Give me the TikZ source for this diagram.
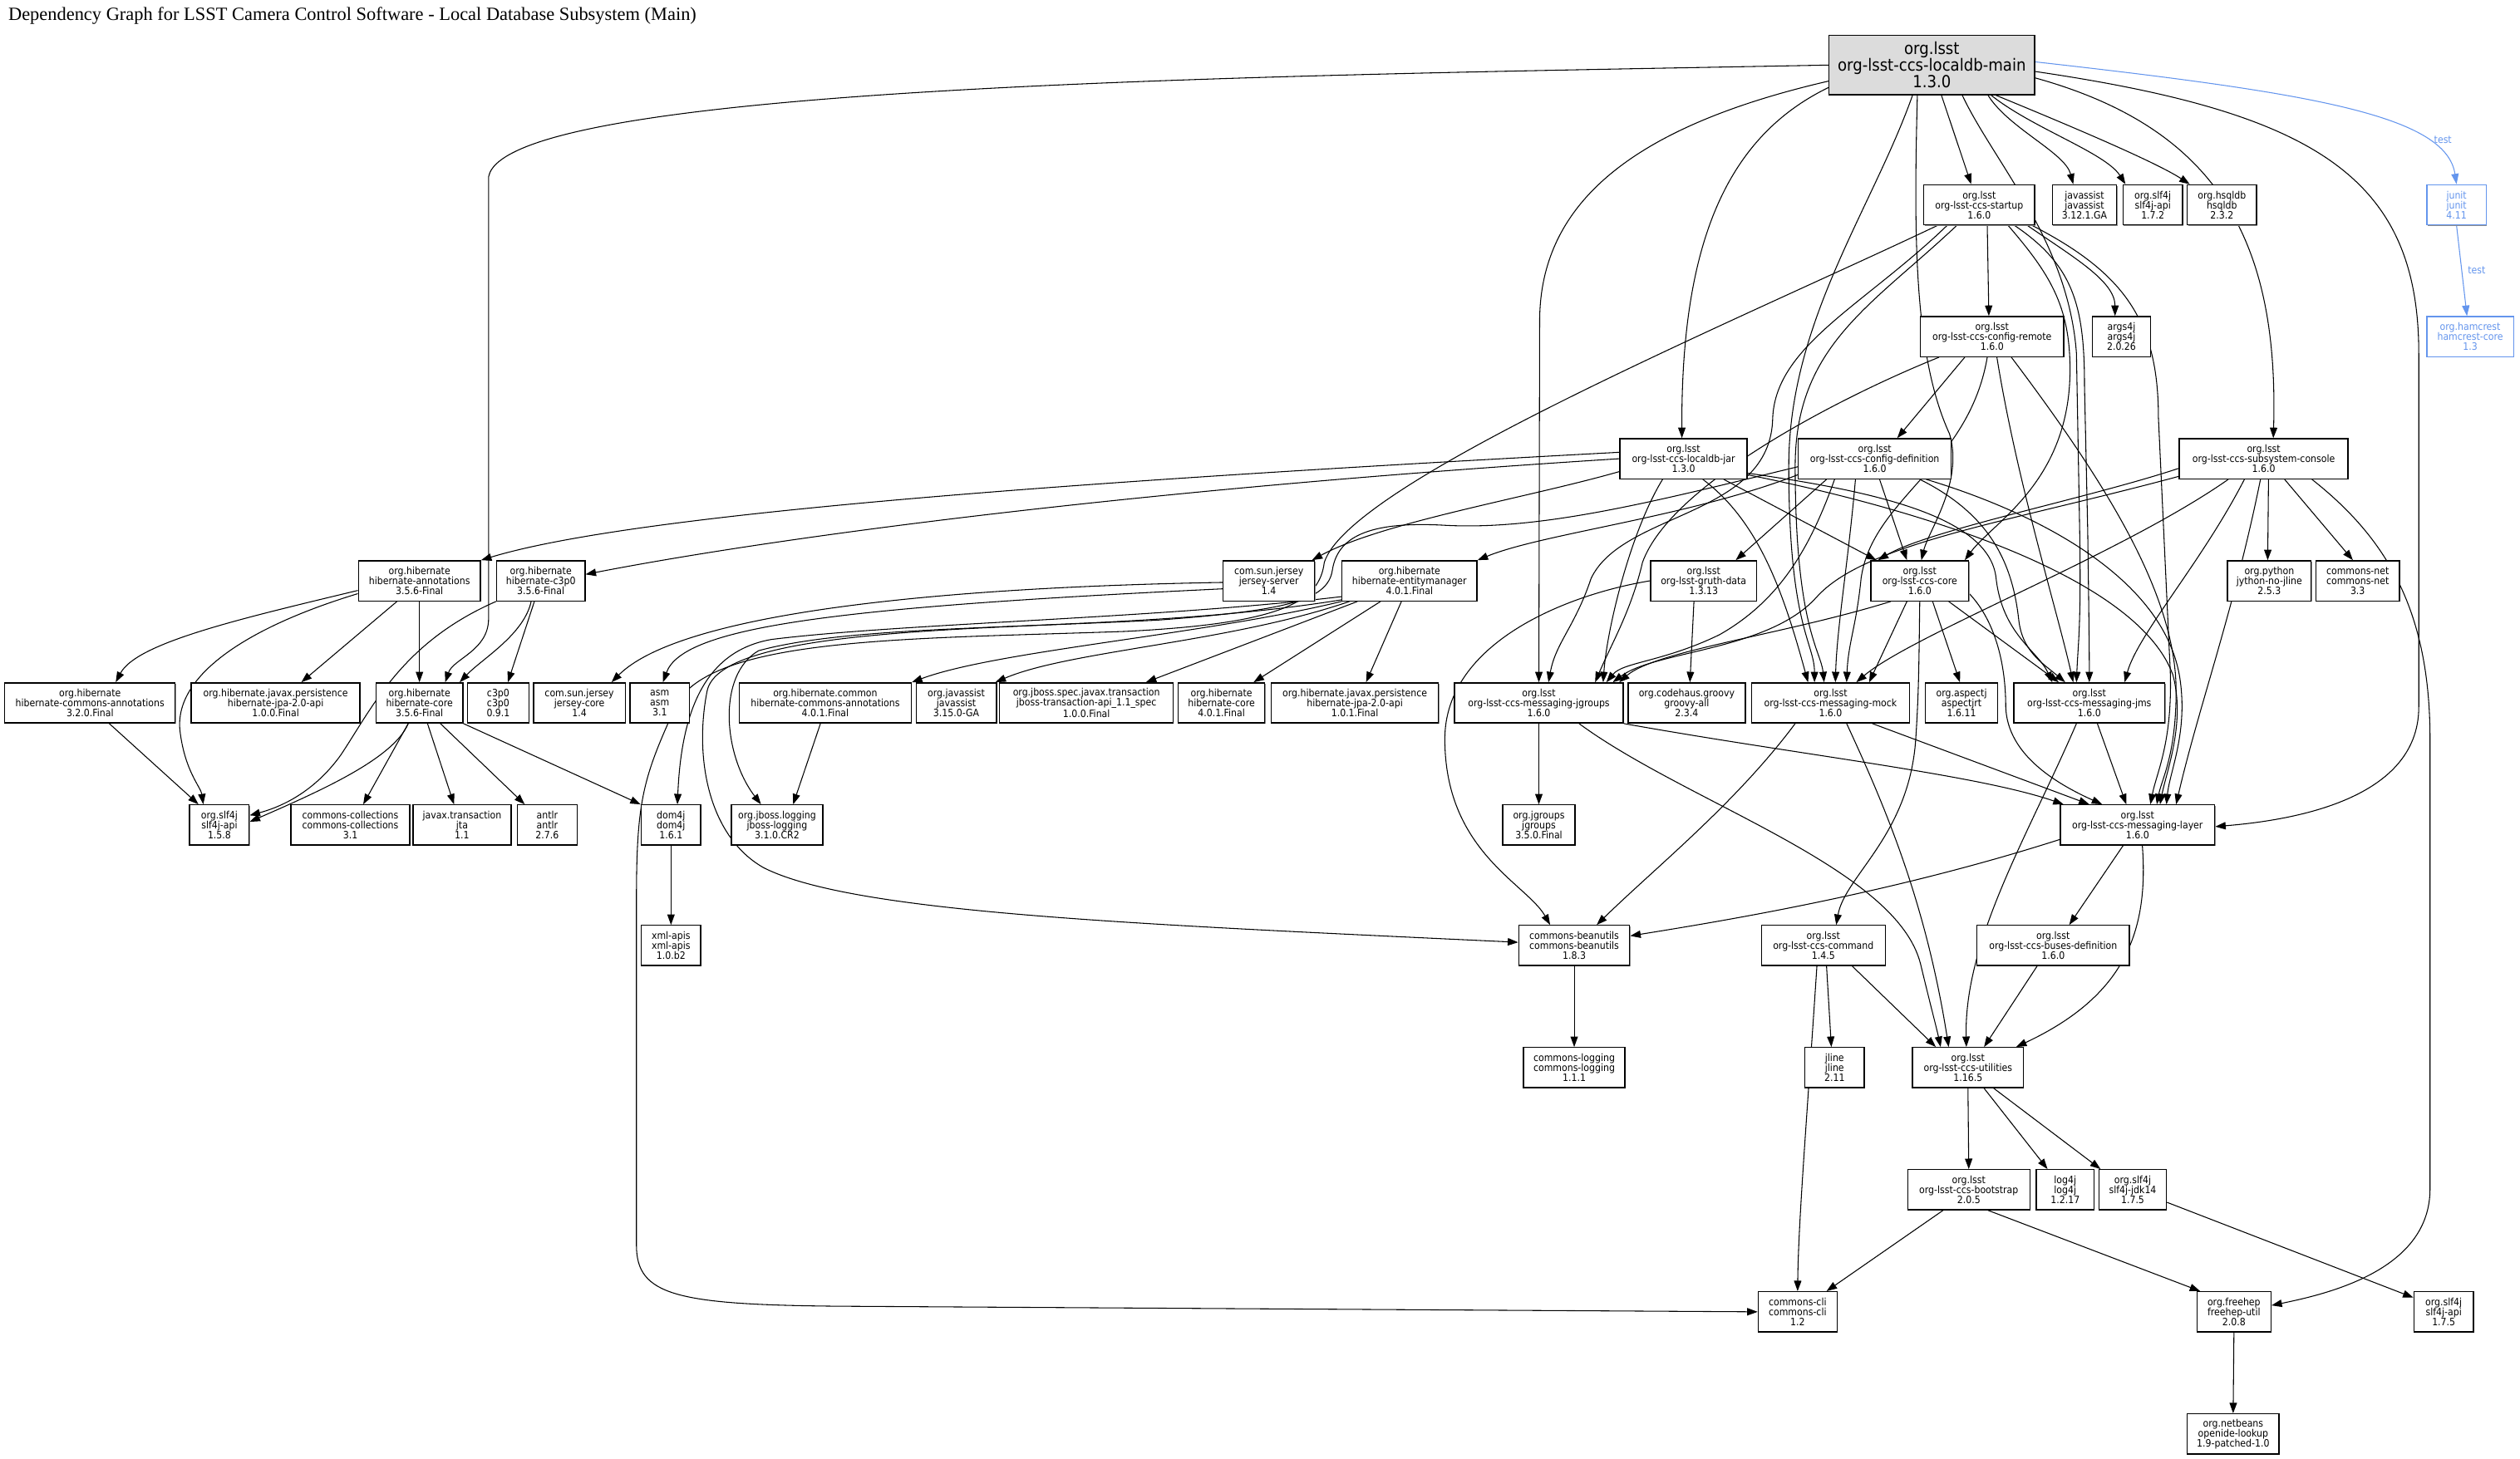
\documentclass[tikz,border=0pt]{standalone}
\usepackage{fontspec}
\setmainfont{Liberation Serif}
\newfontfamily\nf{DejaVu Sans Condensed}
\usetikzlibrary{arrows.meta,shadows}
\definecolor{cblue}{HTML}{6495ED}
\definecolor{rootgray}{HTML}{DCDCDC}
\pgfdeclarelayer{bg}
\pgfsetlayers{bg,main}
\newcommand\dbox[5]{\node[box,minimum width=#4pt] (#1) at (#2,#3) {#5};}
\begin{document}
\begin{tikzpicture}[x=1pt,y=-1pt,
  box/.style={draw, fill=white, line width=0.7pt, inner sep=0pt, align=center,
    font=\nf\fontsize{6.3}{6.2}\selectfont, minimum height=25pt,
    drop shadow={shadow xshift=0.45pt, shadow yshift=-0.6pt, fill=black!45, opacity=1}},
  dep/.style={draw, line width=0.55pt, -{Triangle[length=6.5pt,width=4.6pt]}},
  tdep/.style={dep, draw=cblue},
  tlab/.style={font=\nf\fontsize{6.3}{6.2}\selectfont, text=cblue, inner sep=0pt}]
\useasboundingbox (0,0) rectangle (1568,908);
\node[anchor=west, inner sep=0pt, font=\fontsize{11.6}{14}\selectfont] (title) at (5,10)
  {Dependency Graph for LSST Camera Control Software - Local Database Subsystem (Main)};
% root
\node[box, fill=rootgray, minimum width=128pt, minimum height=37pt, font=\nf\fontsize{10.4}{10.3}\selectfont] (root) at (1202,40.5) {org.lsst\\org-lsst-ccs-localdb-main\\1.3.0};
% row 1
\dbox{startup}{1231.5}{127.5}{69}{org.lsst\\org-lsst-ccs-startup\\1.6.0}
\dbox{javassist}{1297}{127.5}{40}{javassist\\javassist\\3.12.1.GA}
\dbox{slfxii}{1339.5}{127.5}{37}{org.slf4j\\slf4j-api\\1.7.2}
\dbox{hsqldb}{1382.5}{127.5}{43}{org.hsqldb\\hsqldb\\2.3.2}
\node[box, draw=cblue, text=cblue, minimum width=37pt] (junit) at (1528.5,127.5) {junit\\junit\\4.11};
% row 2
\dbox{configremote}{1239.5}{209.5}{89}{org.lsst\\org-lsst-ccs-config-remote\\1.6.0}
\dbox{argsj}{1320}{209.5}{36}{args4j\\args4j\\2.0.26}
\node[box, draw=cblue, text=cblue, minimum width=54pt] (hamcrest) at (1537,209.5) {org.hamcrest\\hamcrest-core\\1.3};
% row 3
\dbox{localdbjar}{1047.5}{285.5}{79}{org.lsst\\org-lsst-ccs-localdb-jar\\1.3.0}
\dbox{configdef}{1166.5}{285.5}{95}{org.lsst\\org-lsst-ccs-config-definition\\1.6.0}
\dbox{console}{1408.5}{285.5}{105}{org.lsst\\org-lsst-ccs-subsystem-console\\1.6.0}
% row 4
\dbox{hannotations}{261}{361.5}{76}{org.hibernate\\hibernate-annotations\\3.5.6-Final}
\dbox{hcpo}{336.5}{361.5}{55}{org.hibernate\\hibernate-c3p0\\3.5.6-Final}
\dbox{jerseyserver}{789.5}{361.5}{57}{com.sun.jersey\\jersey-server\\1.4}
\dbox{entitymanager}{877}{361.5}{84}{org.hibernate\\hibernate-entitymanager\\4.0.1.Final}
\dbox{gruthdata}{1060}{361.5}{66}{org.lsst\\org-lsst-gruth-data\\1.3.13}
\dbox{core}{1194.5}{361.5}{61}{org.lsst\\org-lsst-ccs-core\\1.6.0}
\dbox{jython}{1412}{361.5}{52}{org.python\\jython-no-jline\\2.5.3}
\dbox{commonsnet}{1467}{361.5}{52}{commons-net\\commons-net\\3.3}
% row 5
\dbox{hcaold}{56}{437.5}{106}{org.hibernate\\hibernate-commons-annotations\\3.2.0.Final}
\dbox{jpaold}{171.5}{437.5}{105}{org.hibernate.javax.persistence\\hibernate-jpa-2.0-api\\1.0.0.Final}
\dbox{hcoreold}{261}{437.5}{54}{org.hibernate\\hibernate-core\\3.5.6-Final}
\dbox{cpo}{310}{437.5}{38}{c3p0\\c3p0\\0.9.1}
\dbox{jerseycore}{360.5}{437.5}{57}{com.sun.jersey\\jersey-core\\1.4}
\dbox{asm}{410.5}{437.5}{37}{asm\\asm\\3.1}
\dbox{hibcommon}{513.5}{437.5}{107}{org.hibernate.common\\hibernate-commons-annotations\\4.0.1.Final}
\dbox{javassistnew}{595}{437.5}{50}{org.javassist\\javassist\\3.15.0-GA}
\dbox{jbossspec}{676}{437.5}{108}{org.jboss.spec.javax.transaction\\jboss-transaction-api\_1.1\_spec\\1.0.0.Final}
\dbox{hcorenew}{760}{437.5}{54}{org.hibernate\\hibernate-core\\4.0.1.Final}
\dbox{jpanew}{843}{437.5}{104}{org.hibernate.javax.persistence\\hibernate-jpa-2.0-api\\1.0.1.Final}
\dbox{jgroupsmsg}{957.5}{437.5}{105}{org.lsst\\org-lsst-ccs-messaging-jgroups\\1.6.0}
\dbox{groovy}{1049.5}{437.5}{73}{org.codehaus.groovy\\groovy-all\\2.3.4}
\dbox{mock}{1139}{437.5}{98}{org.lsst\\org-lsst-ccs-messaging-mock\\1.6.0}
\dbox{aspectj}{1220.5}{437.5}{45}{org.aspectj\\aspectjrt\\1.6.11}
\dbox{jms}{1300}{437.5}{94}{org.lsst\\org-lsst-ccs-messaging-jms\\1.6.0}
% row 6
\dbox{slfold}{136.5}{513.5}{37}{org.slf4j\\slf4j-api\\1.5.8}
\dbox{collections}{218}{513.5}{74}{commons-collections\\commons-collections\\3.1}
\dbox{jta}{287.5}{513.5}{61}{javax.transaction\\jta\\1.1}
\dbox{antlr}{340.5}{513.5}{37}{antlr\\antlr\\2.7.6}
\dbox{domj}{417.5}{513.5}{37}{dom4j\\dom4j\\1.6.1}
\dbox{jbosslogging}{483.5}{513.5}{57}{org.jboss.logging\\jboss-logging\\3.1.0.CR2}
\dbox{jgroups}{957.5}{513.5}{45}{org.jgroups\\jgroups\\3.5.0.Final}
\dbox{layer}{1330}{513.5}{96}{org.lsst\\org-lsst-ccs-messaging-layer\\1.6.0}
% row 7
\dbox{xmlapis}{417.5}{588.5}{37}{xml-apis\\xml-apis\\1.0.b2}
\dbox{beanutils}{979.5}{588.5}{69}{commons-beanutils\\commons-beanutils\\1.8.3}
\dbox{command}{1134.5}{588.5}{77}{org.lsst\\org-lsst-ccs-command\\1.4.5}
\dbox{buses}{1277.5}{588.5}{95}{org.lsst\\org-lsst-ccs-buses-definition\\1.6.0}
% row 8
\dbox{commonslogging}{979.5}{664.5}{63}{commons-logging\\commons-logging\\1.1.1}
\dbox{jline}{1141.5}{664.5}{37}{jline\\jline\\2.11}
\dbox{utilities}{1224.5}{664.5}{69}{org.lsst\\org-lsst-ccs-utilities\\1.16.5}
% row 9
\dbox{bootstrap}{1225}{740.5}{76}{org.lsst\\org-lsst-ccs-bootstrap\\2.0.5}
\dbox{logj}{1285}{740.5}{36}{log4j\\log4j\\1.2.17}
\dbox{jdk}{1327}{740.5}{42}{org.slf4j\\slf4j-jdk14\\1.7.5}
% row 10
\dbox{commonscli}{1118.5}{816.5}{49}{commons-cli\\commons-cli\\1.2}
\dbox{freehep}{1390}{816.5}{46}{org.freehep\\freehep-util\\2.0.8}
\dbox{slfnew}{1520.5}{816.5}{37}{org.slf4j\\slf4j-api\\1.7.5}
% row 11
\dbox{openide}{1389.5}{892.5}{57}{org.netbeans\\openide-lookup\\1.9-patched-1.0}
\node[tlab] (ta) at (1520,87) {test};
\node[tlab] (tb) at (1541,168) {test};

\begin{pgfonlayer}{bg}
% root
\draw[dep] (root.west) .. controls (800,47) and (315,52) .. (304,110) -- (304,385) .. controls (304,405) and (282,410) .. ([xshift=16pt]hcoreold.north);
\draw[dep] ([yshift=-10pt]root.west) .. controls (1010,80) and (958,130) .. (958,200) -- (jgroupsmsg.north);
\draw[dep] ([yshift=-14pt]root.west) .. controls (1075,85) and (1046,150) .. ([xshift=-1pt]localdbjar.north);
\draw[dep] ([xshift=-12pt]root.south) .. controls (1165,130) and (1113,200) .. (1113,290) .. controls (1113,390) and (1129,400) .. ([xshift=-10pt]mock.north);
\draw[dep] ([xshift=-9pt]root.south) .. controls (1191,140) and (1190,220) .. (1213,270) .. controls (1222,300) and (1200,330) .. ([xshift=1pt]core.north);
\draw[dep] ([xshift=6pt]root.south) -- ([xshift=-5pt]startup.north);
\draw[dep] ([xshift=19pt]root.south) .. controls (1240,100) and (1287,150) .. (1292,220) -- (1294,330) .. controls (1295,390) and (1293,400) .. ([xshift=-8pt]jms.north);
\draw[dep] ([xshift=35pt]root.south) .. controls (1250,80) and (1285,95) .. ([xshift=-7pt]javassist.north);
\draw[dep] ([xshift=37pt]root.south) .. controls (1265,80) and (1310,95) .. ([xshift=-17pt]slfxii.north);
\draw[dep] ([xshift=40pt]root.south) .. controls (1280,75) and (1340,100) .. ([xshift=-20pt]hsqldb.north);
\draw[dep] ([yshift=-8pt]root.east) .. controls (1380,80) and (1418,150) .. ([xshift=6pt]console.north);
\draw[dep] ([yshift=-4pt]root.east) .. controls (1440,70) and (1505,110) .. (1505,220) -- (1505,440) .. controls (1505,500) and (1420,511) .. ([yshift=-1pt]layer.east);
\draw[tdep] ([yshift=2pt]root.east) .. controls (1440,58) and (1522,72) .. (junit.north);
\draw[tdep] (junit.south) -- ([xshift=-2pt]hamcrest.north);
% startup
\draw[dep] ([xshift=-26pt]startup.south) .. controls (1080,200) and (840,300) .. (824,350) .. controls (821,374) and (800,388) .. (700,393) .. controls (560,398) and (432,396) .. (418,445) .. controls (400,485) and (396,500) .. (396,560) -- (396,775) .. controls (396,806) and (420,812) .. (520,813) -- (commonscli.west);
\draw[dep] ([xshift=-20pt]startup.south) .. controls (1160,190) and (1105,215) .. (1103,260) .. controls (1102,322) and (1010,318) .. (990,360) .. controls (980,390) and (968,400) .. ([xshift=6pt]jgroupsmsg.north);
\draw[dep] ([xshift=-14pt]startup.south) .. controls (1165,190) and (1117,215) .. (1117,290) .. controls (1117,390) and (1133,405) .. ([xshift=-4pt]mock.north);
\draw[dep] ([xshift=5pt]startup.south) -- ([xshift=-2pt]configremote.north);
\draw[dep] ([xshift=18pt]startup.south) .. controls (1275,170) and (1288,190) .. (1288,230) .. controls (1288,300) and (1240,325) .. ([xshift=28pt]core.north);
\draw[dep] ([xshift=22pt]startup.south) .. controls (1290,165) and (1297,190) .. (1297,240) -- (1299,330) .. controls (1300,400) and (1300,410) .. (jms.north);
\draw[dep] ([xshift=30pt]startup.south) .. controls (1290,160) and (1316,175) .. ([xshift=-4pt]argsj.north);
\draw[dep] ([xshift=33pt]startup.south) .. controls (1322,170) and (1343,200) .. (1343,260) -- (1350,410) .. controls (1353,460) and (1342,480) .. ([xshift=8pt]layer.north);
% config-remote
\draw[dep] ([xshift=-17pt]configremote.south) -- ([xshift=14pt]configdef.north);
\draw[dep] ([xshift=-33pt]configremote.south) .. controls (1150,245) and (1040,300) .. (1022,350) .. controls (1015,380) and (1003,400) .. ([xshift=35pt]jgroupsmsg.north);
\draw[dep] ([xshift=-3pt]configremote.south) .. controls (1225,290) and (1165,310) .. (1158,360) .. controls (1155,390) and (1150,400) .. ([xshift=10pt]mock.north);
\draw[dep] ([xshift=3pt]configremote.south) .. controls (1255,300) and (1280,380) .. ([xshift=-10pt]jms.north);
\draw[dep] ([xshift=12pt]configremote.south) .. controls (1310,300) and (1354,370) .. (1354,430) .. controls (1354,470) and (1345,485) .. ([xshift=12pt]layer.north);
% localdb-jar
\draw[dep] ([yshift=4pt]localdbjar.west) .. controls (700,298) and (400,318) .. (hannotations.north east);
\draw[dep] (localdbjar.west) .. controls (700,305) and (480,335) .. ([yshift=4pt]hcpo.east);
\draw[dep] ([yshift=-8pt]localdbjar.west) .. controls (950,310) and (860,325) .. ([xshift=-2pt]jerseyserver.north east);
\draw[dep] ([xshift=-13pt]localdbjar.south) .. controls (1015,330) and (1000,390) .. ([xshift=40pt]jgroupsmsg.north);
\draw[dep] ([xshift=12pt]localdbjar.south) .. controls (1095,325) and (1110,370) .. ([xshift=-14pt]mock.north);
\draw[dep] ([xshift=25pt]localdbjar.south) -- ([xshift=-27pt]core.north);
\draw[dep] ([yshift=-9pt]localdbjar.east) .. controls (1160,305) and (1238,320) .. (1242,360) .. controls (1246,395) and (1268,405) .. ([xshift=-23pt]jms.north);
\draw[dep] ([yshift=-10pt]localdbjar.east) .. controls (1200,318) and (1330,360) .. (1352,420) .. controls (1360,450) and (1348,480) .. ([xshift=14pt]layer.north);
% config-definition
\draw[dep] ([xshift=-30pt]configdef.south) -- ([xshift=20pt]gruthdata.north);
\draw[dep] ([xshift=-25pt]configdef.south) .. controls (1125,345) and (1105,375) .. (1070,395) .. controls (1035,412) and (1010,412) .. ([xshift=42pt]jgroupsmsg.north);
\draw[dep] ([xshift=-12pt]configdef.south) .. controls (1150,350) and (1143,390) .. ([xshift=3pt]mock.north);
\draw[dep] ([xshift=3pt]configdef.south) -- ([xshift=-8pt]core.north);
\draw[dep] ([xshift=28pt]configdef.south) .. controls (1238,320) and (1252,350) .. (1256,385) .. controls (1258,405) and (1270,412) .. ([xshift=-15pt]jms.north);
\draw[dep] ([xshift=32pt]configdef.south) .. controls (1270,320) and (1345,360) .. (1356,420) .. controls (1362,455) and (1350,480) .. ([xshift=18pt]layer.north);
\draw[dep] ([yshift=-10pt]configdef.west) .. controls (1050,322) and (960,332) .. (entitymanager.north east);
\draw[dep] ([yshift=-5pt]configdef.west) .. controls (1030,312) and (960,330) .. (900,327) .. controls (850,324) and (832,335) .. (829,355) .. controls (826,374) and (800,380) .. (720,386) .. controls (600,392) and (448,392) .. (440,430) .. controls (432,470) and (440,520) .. (475,540) .. controls (530,568) and (700,575) .. ([yshift=2pt]beanutils.west);
% console
\draw[dep] ([yshift=-6pt]console.west) .. controls (1300,310) and (1200,330) .. ([xshift=-26pt]core.north);
\draw[dep] ([yshift=-11pt]console.west) .. controls (1250,325) and (1160,338) .. (1130,372) .. controls (1100,405) and (1030,405) .. ([xshift=46pt]jgroupsmsg.north);
\draw[dep] ([xshift=-22pt]console.south) .. controls (1320,345) and (1190,395) .. ([xshift=16pt]mock.north);
\draw[dep] ([xshift=-12pt]console.south) .. controls (1370,350) and (1330,395) .. ([xshift=22pt]jms.north);
\draw[dep] ([xshift=-2pt]console.south) .. controls (1390,380) and (1368,440) .. ([xshift=24pt]layer.north);
\draw[dep] ([xshift=3pt]console.south) -- ([xshift=-1pt]jython.north);
\draw[dep] ([xshift=13pt]console.south) -- ([xshift=-3pt]commonsnet.north);
\draw[dep] ([xshift=30pt]console.south) .. controls (1485,335) and (1512,380) .. (1512,460) -- (1512,740) .. controls (1512,790) and (1450,805) .. ([yshift=4pt]freehep.east);
% gruth-data
\draw[dep] ([xshift=-6pt]gruthdata.south) -- ([xshift=2pt]groovy.north);
\draw[dep] (gruthdata.west) .. controls (975,370) and (899,400) .. (899,460) .. controls (899,530) and (950,550) .. ([xshift=-15pt]beanutils.north);
% core
\draw[dep] ([xshift=-18pt]core.south) .. controls (1110,395) and (1030,405) .. ([xshift=50pt]jgroupsmsg.north);
\draw[dep] ([xshift=-8pt]core.south) -- ([xshift=24pt]mock.north);
\draw[dep] (core.south) .. controls (1194,410) and (1194,430) .. (1192,460) .. controls (1188,520) and (1148,545) .. ([xshift=8pt]command.north);
\draw[dep] ([xshift=8pt]core.south) -- ([xshift=-1pt]aspectj.north);
\draw[dep] ([xshift=18pt]core.south) -- ([xshift=-19pt]jms.north);
\draw[dep] ([yshift=-8pt]core.east) .. controls (1240,385) and (1248,410) .. (1248,440) .. controls (1249,470) and (1280,488) .. ([xshift=-22pt]layer.north);
% messaging-jgroups
\draw[dep] (jgroupsmsg.south) -- (jgroups.north);
\draw[dep] (jgroupsmsg.south east) .. controls (1120,470) and (1230,482) .. ([xshift=-46pt]layer.north);
\draw[dep] ([xshift=25pt]jgroupsmsg.south) .. controls (1050,500) and (1180,540) .. (1195,600) .. controls (1201,625) and (1205,640) .. ([xshift=-17pt]utilities.north);
% messaging-mock
\draw[dep] ([xshift=-22pt]mock.south) .. controls (1080,500) and (1030,540) .. ([xshift=14pt]beanutils.north);
\draw[dep] ([xshift=26pt]mock.south) -- ([xshift=-30pt]layer.north);
\draw[dep] ([xshift=10pt]mock.south) .. controls (1172,500) and (1198,560) .. ([xshift=-12pt]utilities.north);
% messaging-jms
\draw[dep] ([xshift=5pt]jms.south) -- ([xshift=-7pt]layer.north);
\draw[dep] ([xshift=-8pt]jms.south) .. controls (1262,520) and (1222,585) .. ([xshift=-1pt]utilities.north);
% messaging-layer
\draw[dep] ([yshift=-9pt]layer.west) .. controls (1180,555) and (1080,572) .. ([yshift=6pt]beanutils.east);
\draw[dep] ([xshift=-9pt]layer.south) -- ([xshift=10pt]buses.north);
\draw[dep] ([xshift=3pt]layer.south) .. controls (1337,580) and (1322,620) .. ([xshift=30pt]utilities.north);
\draw[dep] ([xshift=-10pt]buses.south) -- ([xshift=10pt]utilities.north);
% command
\draw[dep] ([xshift=2pt]command.south) -- ([xshift=-2pt]jline.north);
\draw[dep] ([xshift=18pt]command.south) -- ([xshift=-20pt]utilities.north);
\draw[dep] ([xshift=-4pt]command.south) .. controls (1124,700) and (1119,760) .. (commonscli.north);
% utilities
\draw[dep] (utilities.south) -- (bootstrap.north);
\draw[dep] ([xshift=10pt]utilities.south) -- ([xshift=-11pt]logj.north);
\draw[dep] ([xshift=16pt]utilities.south) -- ([xshift=-20pt]jdk.north);
\draw[dep] ([xshift=-16pt]bootstrap.south) -- ([xshift=18pt]commonscli.north);
\draw[dep] ([xshift=12pt]bootstrap.south) -- ([xshift=-21pt]freehep.north);
\draw[dep] ([yshift=5pt]jdk.south east) -- ([yshift=-4pt]slfnew.north west);
\draw[dep] (freehep.south) -- (openide.north);
\draw[dep] (beanutils.south) -- (commonslogging.north);
% entitymanager
\draw[dep] (entitymanager.south west) .. controls (750,395) and (620,405) .. (hibcommon.north east);
\draw[dep] ([xshift=5pt]entitymanager.south west) .. controls (765,400) and (665,405) .. ([xshift=-1pt]javassistnew.north east);
\draw[dep] ([xshift=10pt]entitymanager.south west) -- ([xshift=37pt]jbossspec.north);
\draw[dep] ([xshift=-18pt]entitymanager.south) -- ([xshift=20pt]hcorenew.north);
\draw[dep] ([xshift=-5pt]entitymanager.south) -- ([xshift=7pt]jpanew.north);
\draw[dep] ([yshift=3pt]entitymanager.south west) .. controls (720,385) and (560,388) .. (480,398) .. controls (440,405) and (424,440) .. ([xshift=4pt]domj.north);
\draw[dep] ([yshift=1pt]entitymanager.south west) .. controls (700,395) and (545,385) .. (472,405) .. controls (446,420) and (450,470) .. ([xshift=-10pt]jbosslogging.north);
% jersey-server
\draw[dep] ([yshift=-1pt]jerseyserver.west) .. controls (560,366) and (420,385) .. ([xshift=20pt]jerseycore.north);
\draw[dep] ([yshift=-5pt]jerseyserver.west) .. controls (520,378) and (425,390) .. ([xshift=2pt]asm.north);
% hibernate-annotations
\draw[dep] ([yshift=-6pt]hannotations.west) .. controls (150,385) and (85,400) .. ([xshift=16pt]hcaold.north);
\draw[dep] ([xshift=-14pt]hannotations.south) -- ([xshift=16pt]jpaold.north);
\draw[dep] (hannotations.south) -- (hcoreold.north);
\draw[dep] ([yshift=-8pt]hannotations.west) .. controls (155,390) and (108,420) .. (112,455) .. controls (115,480) and (125,490) .. ([xshift=-10pt]slfold.north);
% hibernate-c3p0
\draw[dep] ([xshift=-6pt]hcpo.south) .. controls (326,395) and (300,410) .. ([xshift=25pt]hcoreold.north);
\draw[dep] ([xshift=-4pt]hcpo.south) -- ([xshift=6pt]cpo.north);
\draw[dep] (hcpo.south west) .. controls (250,400) and (232,440) .. (212,470) .. controls (194,495) and (172,503) .. ([yshift=6pt]slfold.east);
% hibernate-core 3.5.6
\draw[dep] ([xshift=-7pt]hcoreold.south) .. controls (245,472) and (200,492) .. ([yshift=2pt]slfold.east);
\draw[dep] ([xshift=-7pt]hcoreold.south) -- ([xshift=8pt]collections.north);
\draw[dep] ([xshift=5pt]hcoreold.south) -- ([xshift=-5pt]jta.north);
\draw[dep] ([xshift=13pt]hcoreold.south) -- ([xshift=-14pt]antlr.north);
\draw[dep] (hcoreold.south east) -- (domj.north west);
\draw[dep] ([xshift=12pt]hcaold.south) -- ([xshift=-13pt]slfold.north);
\draw[dep] (domj.south) -- (xmlapis.north);
\draw[dep] ([xshift=-3pt]hibcommon.south) -- ([xshift=10pt]jbosslogging.north);
\end{pgfonlayer}
\end{tikzpicture}
\end{document}
